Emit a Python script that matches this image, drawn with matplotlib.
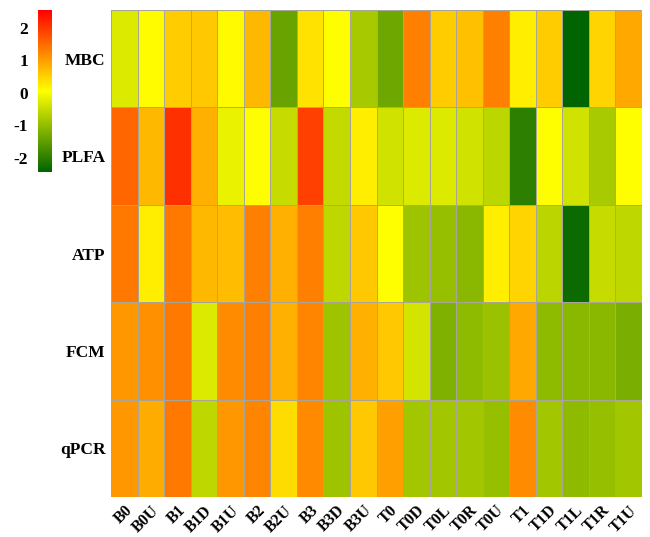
import matplotlib.pyplot as plt
import numpy as np
from matplotlib.colors import LinearSegmentedColormap

# Samples (columns) and measures (rows)
samples = ["B0", "B0U", "B1", "B1D", "B1U", "B2", "B2U", "B3", "B3D", "B3U",
           "T0", "T0D", "T0L", "T0R", "T0U", "T1", "T1D", "T1L", "T1R", "T1U"]
measures = ["MBC", "PLFA", "ATP", "FCM", "qPCR"]

# Scaled values per measure
mbc = [-0.29, 0.08, 0.55, 0.59, 0.10, 0.75, -1.41, 0.35, 0.07, -0.80,
       -1.36, 1.30, 0.55, 0.67, 1.30, 0.22, 0.55, -2.43, 0.47, 0.90]
plfa = [1.55, 0.75, 2.08, 0.83, -0.15, 0.05, -0.50, 1.92, -0.54, 0.22,
        -0.39, -0.28, -0.28, -0.39, -0.59, -2.00, 0.05, -0.39, -0.78, 0.07]
atp = [1.37, 0.22, 1.37, 0.75, 0.72, 1.30, 0.83, 1.30, -0.57, 0.59,
       0.05, -0.88, -0.96, -1.08, 0.22, 0.47, -0.61, -2.30, -0.49, -0.57]
fcm = [1.06, 1.14, 1.37, -0.29, 1.18, 1.30, 0.83, 1.25, -0.88, 0.83,
       0.59, -0.37, -1.20, -1.04, -0.92, 0.90, -1.04, -1.08, -1.08, -1.23]
qpcr = [1.06, 0.86, 1.37, -0.57, 1.06, 1.25, 0.40, 1.20, -0.88, 0.59,
        0.98, -0.84, -0.84, -0.84, -0.96, 1.18, -0.84, -1.04, -0.96, -0.84]

colorbar_ticks = [-2, -1, 0, 1, 2]

data = np.array([mbc, plfa, atp, fcm, qpcr])
vmin, vmax = -2.43, 2.55

cmap = LinearSegmentedColormap.from_list("gyr", ["darkgreen", "yellow", "red"])
font = dict(family="Liberation Serif", fontweight="bold", fontsize=12.5)

fig = plt.figure(figsize=(6.5, 5.37), dpi=100)

# Heatmap
ax = fig.add_axes([111 / 650, 1 - 497 / 537, 531 / 650, 487 / 537])
mesh = ax.pcolormesh(data, cmap=cmap, vmin=vmin, vmax=vmax,
                     edgecolors="#a8a498", linewidth=0.6)
ax.set_xlim(0, len(samples))
ax.set_ylim(len(measures), 0)
for s in ax.spines.values():
    s.set_visible(False)

ax.set_yticks(np.arange(len(measures)) + 0.5)
ax.set_yticklabels(measures, **font)
ax.set_xticks(np.arange(len(samples)) + 0.5)
ax.set_xticklabels(samples, rotation=45, ha="right", va="top",
                   rotation_mode="anchor", family="Liberation Serif",
                   fontweight="bold", fontsize=11.5)
ax.tick_params(axis="both", length=0)
ax.tick_params(axis="y", pad=4)
ax.tick_params(axis="x", pad=4)

# Colour legend
cax = fig.add_axes([38 / 650, 1 - 172 / 537, 14 / 650, 162 / 537])
cb = fig.colorbar(mesh, cax=cax, ticks=colorbar_ticks)
cb.outline.set_visible(False)
cax.yaxis.set_ticks_position("left")
cax.tick_params(length=0, pad=7)
cax.set_yticklabels([str(t) for t in colorbar_ticks], **font)

fig.savefig("out.png", dpi=100)
